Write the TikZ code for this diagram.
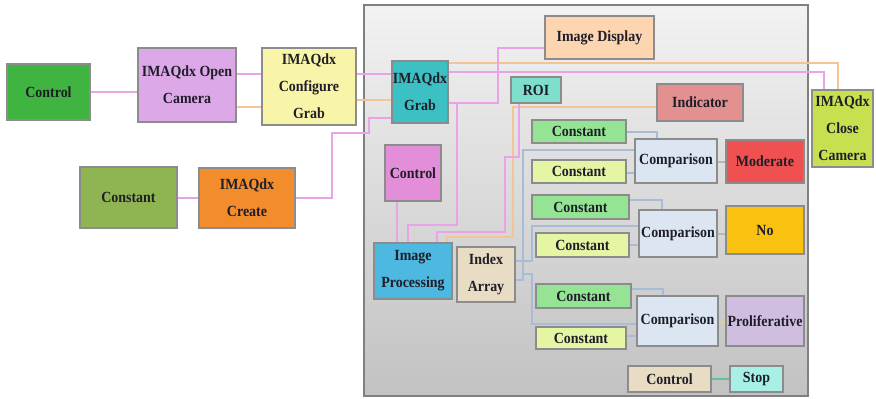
\documentclass[tikz,border=0pt]{standalone}
\usepackage{fontspec}
\setmainfont{Liberation Serif}[FakeStretch=0.9]
\usetikzlibrary{calc}

% block fills
\definecolor{cGreen}{HTML}{40B440}
\definecolor{cViolet}{HTML}{DDA8E8}
\definecolor{cPaleYellow}{HTML}{F8F4A8}
\definecolor{cPeach}{HTML}{FDD5B0}
\definecolor{cTeal}{HTML}{3CC0C4}
\definecolor{cAqua}{HTML}{7EE0CC}
\definecolor{cRose}{HTML}{E39090}
\definecolor{cLime}{HTML}{C6E050}
\definecolor{cOlive}{HTML}{8FB452}
\definecolor{cOrange}{HTML}{F28C2C}
\definecolor{cPink}{HTML}{E38ED8}
\definecolor{cSky}{HTML}{4DB8E0}
\definecolor{cBeige}{HTML}{E8DDC4}
\definecolor{cMint}{HTML}{94E494}
\definecolor{cCream}{HTML}{E4F5A4}
\definecolor{cIce}{HTML}{DCE6F2}
\definecolor{cRed}{HTML}{EF5050}
\definecolor{cGold}{HTML}{FAC210}
\definecolor{cLilac}{HTML}{D0BEE0}
\definecolor{cStop}{HTML}{A8F0E6}
% wire colours
\definecolor{wPink}{HTML}{E8A4E6}
\definecolor{wOrange}{HTML}{F5C496}
\definecolor{wBlue}{HTML}{A8BCD8}
\definecolor{wGray}{HTML}{B4BCA8}
\definecolor{wYellow}{HTML}{D8D890}
\definecolor{wTeal}{HTML}{60C0A0}
\definecolor{txt}{HTML}{1E1E28}

\begin{document}
\begin{tikzpicture}[x=1pt,y=-1pt,
  blk/.style={draw=black!45, line width=1.1pt, inner sep=0pt, align=center,
    text=txt, font=\fontsize{15.5}{27}\selectfont\bfseries},
  pw/.style={draw=wPink, line width=1.2pt},
  ow/.style={draw=wOrange, line width=1.2pt},
  bw/.style={draw=wBlue, line width=1.2pt}]
\useasboundingbox (0,0) rectangle (876,399);

% front panel
\shade[top color=black!5, bottom color=black!24, draw=black!50, line width=1.2pt]
  (364,5) rectangle (808,396);

% outside the panel
\node[blk, fill=cGreen, minimum width=83, minimum height=56] (ctrlA) at (48.5,92) {Control};
\node[blk, fill=cViolet, minimum width=98, minimum height=74] (openCam) at (187,85) {IMAQdx Open\\Camera};
\node[blk, fill=cPaleYellow, minimum width=94, minimum height=77] (cfgGrab) at (309,86.5) {IMAQdx\\Configure\\Grab};
\node[blk, fill=cOlive, minimum width=97, minimum height=61] (constL) at (128.5,197.5) {Constant};
\node[blk, fill=cOrange, minimum width=96, minimum height=60] (create) at (247,198) {IMAQdx\\Create};
\node[blk, fill=cLime, minimum width=61, minimum height=77] (closeCam) at (842.5,128.5) {IMAQdx\\Close\\Camera};

% inside the panel
\node[blk, fill=cPeach, minimum width=109, minimum height=43] (imgDisp) at (599.5,37.5) {Image Display};
\node[blk, fill=cTeal, minimum width=56, minimum height=62] (grab) at (420,92) {IMAQdx\\Grab};
\node[blk, fill=cAqua, minimum width=50, minimum height=26] (roi) at (536,90) {ROI};
\node[blk, fill=cRose, minimum width=86, minimum height=37] (indicator) at (700,102.5) {Indicator};
\node[blk, fill=cPink, minimum width=56, minimum height=56] (ctrlP) at (413,173) {Control};
\node[blk, fill=cSky, minimum width=78, minimum height=56] (imgProc) at (413,271) {Image\\Processing};
\node[blk, fill=cBeige, minimum width=58, minimum height=55] (index) at (486,274.5) {Index\\Array};

\node[blk, fill=cMint, minimum width=94, minimum height=23] (c1) at (579,131.5) {Constant};
\node[blk, fill=cCream, minimum width=94, minimum height=23] (c2) at (579,171.5) {Constant};
\node[blk, fill=cIce, minimum width=82, minimum height=44] (cmp1) at (676,161) {Comparison};
\node[blk, fill=cRed, minimum width=78, minimum height=43] (moderate) at (765,161.5) {Moderate};

\node[blk, fill=cMint, minimum width=97, minimum height=24] (c3) at (580.5,207) {Constant};
\node[blk, fill=cCream, minimum width=93, minimum height=24] (c4) at (582.5,245) {Constant};
\node[blk, fill=cIce, minimum width=78, minimum height=47] (cmp2) at (678,233.5) {Comparison};
\node[blk, fill=cGold, minimum width=78, minimum height=48] (no) at (765,230) {No};

\node[blk, fill=cMint, minimum width=95, minimum height=24] (c5) at (583.5,296) {Constant};
\node[blk, fill=cCream, minimum width=90, minimum height=22] (c6) at (581,338) {Constant};
\node[blk, fill=cIce, minimum width=81, minimum height=50] (cmp3) at (677.5,321) {Comparison};
\node[blk, fill=cLilac, minimum width=78, minimum height=50] (prolif) at (765,321) {Proliferative};

\node[blk, fill=cBeige, minimum width=83, minimum height=26] (ctrlB) at (669.5,379) {Control};
\node[blk, fill=cStop, minimum width=53, minimum height=26] (stop) at (756.5,379) {Stop};

% wires of the acquisition chain
\draw[pw] (ctrlA.east |- 0,92) -- (openCam.west |- 0,92);
\draw[pw] (openCam.east |- 0,74) -- (cfgGrab.west |- 0,74);
\draw[ow] (openCam.east |- 0,107) -- (cfgGrab.west |- 0,107);
\draw[pw] (cfgGrab.east |- 0,74) -- (grab.west |- 0,74);
\draw[ow] (cfgGrab.east |- 0,100) -- (grab.west |- 0,100);
\draw[pw] (create.east |- 0,198) -- (332,198) -- (332,133) -- (369,133) -- (369,118) -- (grab.west |- 0,118);
\draw[pw] (constL.east |- 0,198) -- (create.west |- 0,198);
\draw[ow] (grab.east |- 0,63) -- (838,63) -- (closeCam.north -| 838,0);
\draw[pw] (grab.east |- 0,72) -- (824,72) -- (closeCam.north -| 824,0);

% image wires
\draw[pw] (grab.east |- 0,103) -- (498,103) -- (498,48) -- (imgDisp.west |- 0,48);
\draw[pw] (457,103) -- (457,225) -- (408,225) -- (imgProc.north -| 408,0);
\draw[pw] (ctrlP.south -| 397,0) -- (imgProc.north -| 397,0);
\draw[ow] (indicator.west |- 0,107) -- (513,107) -- (513,237) -- (447,237) -- (imgProc.north -| 447,0);
\draw[pw] (roi.south -| 519,0) -- (519,157) -- (505,157) -- (505,232) -- (437,232) -- (imgProc.north -| 437,0);

% classification wires
\draw[bw] (index.east |- 0,280) -- (523,280) -- (523,150) -- (cmp1.west |- 0,150);
\draw[bw] (index.east |- 0,261) -- (532,261) -- (532,226) -- (cmp2.west |- 0,226);
\draw[bw] (523,274) -- (532,274) -- (532,324) -- (cmp3.west |- 0,324);
\draw[bw] (c1.east |- 0,132) -- (657,132) -- (cmp1.north -| 657,0);
\draw[bw] (c2.east |- 0,173) -- (cmp1.west |- 0,173);
\draw[bw] (c3.east |- 0,200) -- (662,200) -- (cmp2.north -| 662,0);
\draw[bw] (c4.east |- 0,245) -- (cmp2.west |- 0,245);
\draw[bw] (c5.east |- 0,289) -- (663,289) -- (cmp3.north -| 663,0);
\draw[bw] (c6.east |- 0,336) -- (cmp3.west |- 0,336);
\draw[draw=wGray, line width=1.2pt] (cmp1.east |- 0,162) -- (moderate.west |- 0,162);
\draw[draw=wGray, line width=1.2pt] (cmp2.east |- 0,234) -- (no.west |- 0,234);
\draw[draw=wYellow, line width=1.2pt] (cmp3.east |- 0,322) -- (prolif.west |- 0,322);
\draw[draw=wTeal, line width=1.2pt] (ctrlB.east |- 0,379) -- (stop.west |- 0,379);
\end{tikzpicture}
\end{document}
